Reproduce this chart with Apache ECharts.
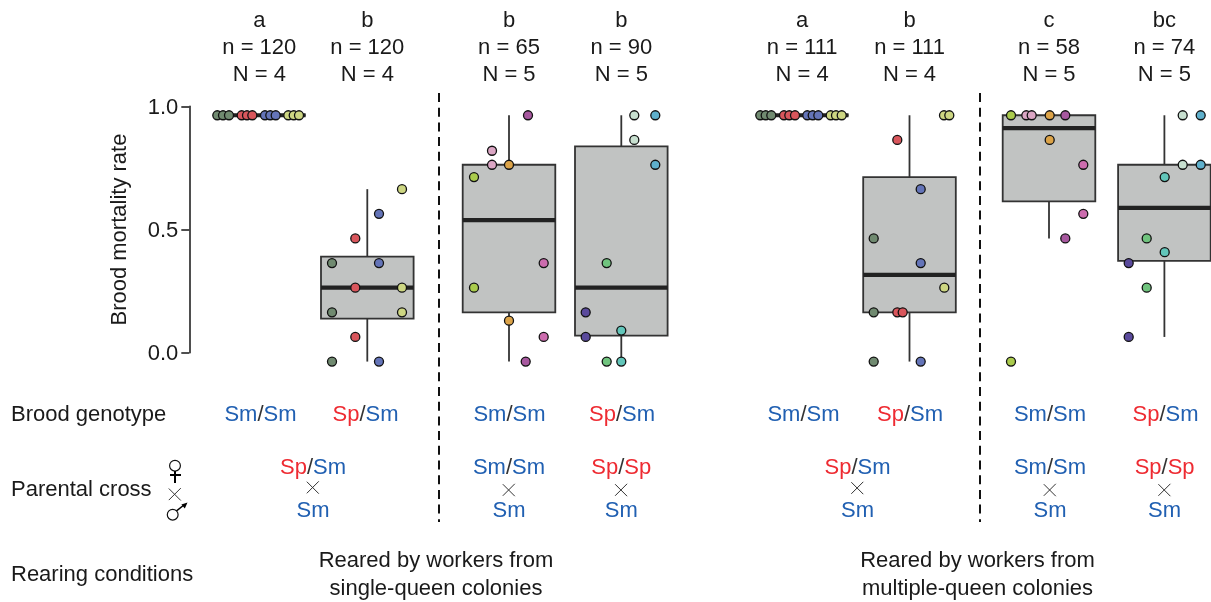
<!DOCTYPE html>
<html>
<head>
<meta charset="utf-8">
<style>
  html, body { margin: 0; padding: 0; background: #fff; }
  #chart { width: 1211px; height: 602px; }
</style>
<script src="https://cdn.jsdelivr.net/npm/echarts@6/dist/echarts.min.js"></script>
</head>
<body>
<div id="chart"></div>
<script>
// header rows above each box
const letters = ['a', 'b', 'b', 'b', 'a', 'b', 'c', 'bc']
const nBrood = [120, 120, 65, 90, 111, 111, 58, 74]
const nColonies = [4, 4, 5, 5, 4, 4, 5, 5]
const broodGenotype = ['Sm/Sm', 'Sp/Sm', 'Sm/Sm', 'Sp/Sm', 'Sm/Sm', 'Sp/Sm', 'Sm/Sm', 'Sp/Sm']
const crossMother = ['Sp/Sm', 'Sm/Sm', 'Sp/Sp', 'Sp/Sm', 'Sm/Sm', 'Sp/Sp']
const crossFather = ['Sm', 'Sm', 'Sm', 'Sm', 'Sm', 'Sm']
const yTicks = ['0.0', '0.5', '1.0']

// whisker low, q1, median, q3, whisker high
const boxStats = [
  [0.964, 0.964, 0.964, 0.964, 0.964],
  [-0.036, 0.138, 0.264, 0.39, 0.664],
  [-0.036, 0.164, 0.538, 0.763, 0.964],
  [-0.036, 0.069, 0.264, 0.838, 0.964],
  [0.964, 0.964, 0.964, 0.964, 0.964],
  [-0.036, 0.164, 0.316, 0.713, 0.964],
  [0.464, 0.614, 0.912, 0.964, 0.964],
  [0.064, 0.373, 0.588, 0.763, 0.964]
]

// one dot per value, colony[] picks the colour
const rate1 = [0.964, 0.964, 0.964, 0.964, 0.964, 0.964, 0.964, 0.964, 0.964, 0.964, 0.964, 0.964]
const colony1 = [0, 0, 0, 1, 1, 1, 2, 2, 2, 3, 3, 3]
const rate2 = [0.364, 0.164, -0.036, 0.464, 0.264, 0.064, 0.564, 0.364, -0.036, 0.664, 0.264, 0.164]
const colony2 = [0, 0, 0, 1, 1, 1, 2, 2, 2, 3, 3, 3]
const rate3 = [0.964, -0.036, 0.82, 0.763, 0.763, 0.13, 0.713, 0.264, 0.364, 0.064]
const colony3 = [4, 4, 5, 5, 6, 6, 7, 7, 8, 8]
const rate4 = [0.964, 0.864, 0.964, 0.763, 0.364, -0.036, 0.164, 0.064, 0.09, -0.036]
const colony4 = [9, 9, 10, 10, 11, 11, 12, 12, 13, 13]
const rate5 = [0.964, 0.964, 0.964, 0.964, 0.964, 0.964, 0.964, 0.964, 0.964, 0.964, 0.964, 0.964]
const colony5 = [0, 0, 0, 1, 1, 1, 2, 2, 2, 3, 3, 3]
const rate6 = [0.964, 0.964, 0.264, 0.864, 0.164, 0.164, 0.464, 0.164, -0.036, 0.664, 0.364, -0.036]
const colony6 = [3, 3, 3, 1, 1, 1, 0, 0, 0, 2, 2, 2]
const rate7 = [0.964, -0.036, 0.964, 0.964, 0.964, 0.864, 0.964, 0.464, 0.763, 0.564]
const colony7 = [7, 7, 5, 5, 6, 6, 4, 4, 8, 8]
const rate8 = [0.964, 0.763, 0.964, 0.763, 0.713, 0.408, 0.464, 0.264, 0.364, 0.064]
const colony8 = [9, 9, 10, 10, 13, 13, 11, 11, 12, 12]

const colonyColors = ['#708a70', '#d9565c', '#6474b8', '#cdd682', '#a7589f', '#dba6c4', '#dca348', '#aacb4c', '#cc6cae', '#c8e0d0', '#5fb0cc', '#70c47e', '#5a4a9c', '#62c6ba']

// layout, px
const boxX = [259.3, 367.3, 509, 621.3, 802.2, 909.5, 1049, 1164.4]
const genotypeX = [260.5, 365.5, 509.5, 622, 803.5, 910, 1050, 1165.5]
const crossX = [313, 509, 621.3, 857.5, 1050, 1164.6]
const timesY = [487.5, 490, 490, 488, 490, 490]
const boxWidth = 92.6
const jitter1 = [-42, -36.3, -30.3, -17.6, -12.3, -7, 5.7, 11, 16.4, 29, 34.4, 39.7]
const jitter2 = [-35.3, -35.3, -35.3, -12, -12, -12, 11.7, 11.7, 11.7, 34.7, 34.7, 34.7]
const jitter3 = [19, 16.7, -17, -17, 0, 0, -35, -35, 34.7, 34.7]
const jitter4 = [13, 13, 34, 34, -14.6, -14.6, -35.6, -35.6, 0, 0]
const jitter5 = [-41.9, -36.5, -30.9, -18.2, -12.9, -7.2, 5.1, 10.5, 16.1, 28.5, 33.8, 39.5]
const jitter6 = [34.5, 39.8, 34.8, -12.2, -12.2, -6.8, -35.8, -35.8, -35.8, 11.2, 11.2, 11.2]
const jitter7 = [-38, -38, -22.7, -17.3, 0.7, 0.7, 16.3, 16.3, 34.3, 34.3]
const jitter8 = [18.3, 18.3, 36.3, 36.3, 0.3, 0.3, -17.7, -17.7, -35.7, -35.7]

const rates = [rate1, rate2, rate3, rate4, rate5, rate6, rate7, rate8]
const colonies = [colony1, colony2, colony3, colony4, colony5, colony6, colony7, colony8]
const jitters = [jitter1, jitter2, jitter3, jitter4, jitter5, jitter6, jitter7, jitter8]

const font = 'Liberation Sans'
const fontSize = 22
const ink = '#1a1a1a'

const dots = []
rates.forEach((list, s) => {
  list.forEach((v, i) => {
    dots.push({
      value: [boxX[s] + jitters[s][i], v],
      itemStyle: { color: colonyColors[colonies[s][i]] }
    })
  })
})

const alleleRich = {
  r: { fill: '#ee2b32', fontSize, fontFamily: font },
  b: { fill: '#2160b2', fontSize, fontFamily: font },
  k: { fill: '#333', fontSize, fontFamily: font }
}

function alleles(str) {
  return str.split('/').map((a) => `{${a === 'Sp' ? 'r' : 'b'}|${a}}`).join('{k|/}')
}

function plainText(text, x, y, align) {
  return {
    type: 'text',
    silent: true,
    style: { text, x, y: y + 1, align: align || 'center', verticalAlign: 'middle', fontSize, fontFamily: font, fill: ink }
  }
}

function alleleText(str, x, y) {
  return {
    type: 'text',
    silent: true,
    style: { text: alleles(str), x, y: y + 1, align: 'center', verticalAlign: 'middle', fontSize, fontFamily: font, rich: alleleRich }
  }
}

function stroke(x1, y1, x2, y2, lineWidth, extra) {
  return {
    type: 'line',
    silent: true,
    shape: { x1, y1, x2, y2 },
    style: Object.assign({ stroke: ink, lineWidth }, extra)
  }
}

function timesMark(x, y) {
  const grey = { stroke: '#333' }
  return [stroke(x - 6.2, y - 5.8, x + 5.8, y + 6.2, 1, grey), stroke(x - 6.2, y + 5.8, x + 5.8, y - 6.2, 1, grey)]
}

const annotations = []
boxX.forEach((x, i) => {
  annotations.push(plainText(letters[i], x, 20))
  annotations.push(plainText('n = ' + nBrood[i], x, 47))
  annotations.push(plainText('N = ' + nColonies[i], x, 73.5))
  annotations.push(alleleText(broodGenotype[i], genotypeX[i], 414))
})
crossX.forEach((x, i) => {
  annotations.push(alleleText(crossMother[i], x, 467))
  annotations.push(...timesMark(x, timesY[i]))
  annotations.push(alleleText(crossFather[i], x, 510))
})
annotations.push(plainText('Brood genotype', 11, 414, 'left'))
annotations.push(plainText('Parental cross', 11, 489, 'left'))
annotations.push(plainText('Rearing conditions', 11, 574, 'left'))
annotations.push(plainText('Reared by workers from', 436, 560))
annotations.push(plainText('single-queen colonies', 436, 588))
annotations.push(plainText('Reared by workers from', 977.5, 560))
annotations.push(plainText('multiple-queen colonies', 977.5, 588))

// dashed separators
annotations.push(stroke(439, 93, 439, 522, 2, { lineDash: [9, 5.7], stroke: '#111' }))
annotations.push(stroke(980, 93, 980, 522, 2, { lineDash: [9, 5.7], stroke: '#111' }))

// female / male signs
annotations.push({ type: 'circle', silent: true, shape: { cx: 175, cy: 465.7, r: 5.4 }, style: { fill: '#fff', stroke: '#111', lineWidth: 1.2 } })
annotations.push(stroke(175, 471, 175, 483, 2, { stroke: '#000' }))
annotations.push(stroke(170, 475, 181, 475, 2, { stroke: '#000' }))
annotations.push(...timesMark(175, 494.3))
annotations.push({ type: 'circle', silent: true, shape: { cx: 172.7, cy: 514.7, r: 5.4 }, style: { fill: '#fff', stroke: '#111', lineWidth: 1.2 } })
annotations.push(stroke(176.5, 510.8, 184, 505, 1.5, { stroke: '#000' }))
annotations.push({ type: 'polygon', silent: true, shape: { points: [[187.5, 502.5], [184.8, 508.6], [181.4, 504.6]] }, style: { fill: '#000' } })

const chart = echarts.init(document.getElementById('chart'), null, { renderer: 'canvas' })

chart.setOption({
  animation: false,
  backgroundColor: '#fff',
  textStyle: { fontFamily: font },
  grid: { left: 189.3, top: 106.4, width: 1021.7, height: 246.3, containLabel: false },
  xAxis: { type: 'value', min: 189.3, max: 1211, show: false },
  yAxis: {
    type: 'value',
    min: 0,
    max: 1,
    interval: 0.5,
    splitLine: { show: false },
    axisLine: { show: true, lineStyle: { color: '#222', width: 1.6 } },
    axisTick: { show: true, length: 8, lineStyle: { color: '#222', width: 1.6 } },
    axisLabel: {
      margin: 11,
      formatter: (v) => `{t|${yTicks[Math.round(v * 2)]}}`,
      rich: { t: { fontSize, fontFamily: font, color: ink, padding: [3, 0, 0, 0] } }
    },
    name: 'Brood mortality rate',
    nameLocation: 'middle',
    nameGap: 58,
    nameTextStyle: { fontSize, fontFamily: font, color: ink }
  },
  series: [
    {
      type: 'custom',
      silent: true,
      clip: false,
      z: 2,
      encode: { x: 0, y: [2, 3, 4] },
      data: boxStats.map((b, i) => [boxX[i], ...b]),
      renderItem: (params, api) => {
        const x = api.coord([api.value(0), 0])[0]
        const half = api.size([boxWidth, 0])[0] / 2
        const yOf = (k) => api.coord([0, api.value(k)])[1]
        const lineStyle = { stroke: '#333', lineWidth: 1.8, fill: null }
        const medianY = yOf(3)
        return {
          type: 'group',
          children: [
            { type: 'line', shape: { x1: x, y1: yOf(1), x2: x, y2: yOf(2) }, style: lineStyle },
            { type: 'line', shape: { x1: x, y1: yOf(4), x2: x, y2: yOf(5) }, style: lineStyle },
            {
              type: 'rect',
              shape: { x: x - half, y: yOf(4), width: half * 2, height: yOf(2) - yOf(4) },
              style: { fill: '#c1c3c2', stroke: '#333', lineWidth: 1.8 }
            },
            {
              type: 'line',
              shape: { x1: x - half, y1: medianY, x2: x + half, y2: medianY },
              style: { stroke: '#222', lineWidth: 4.2 }
            }
          ]
        }
      }
    },
    {
      type: 'scatter',
      silent: true,
      clip: false,
      z: 3,
      symbol: 'circle',
      symbolSize: 9,
      itemStyle: { borderColor: '#111', borderWidth: 1.3, opacity: 1 },
      data: dots
    }
  ],
  graphic: { elements: annotations }
})
</script>
</body>
</html>
